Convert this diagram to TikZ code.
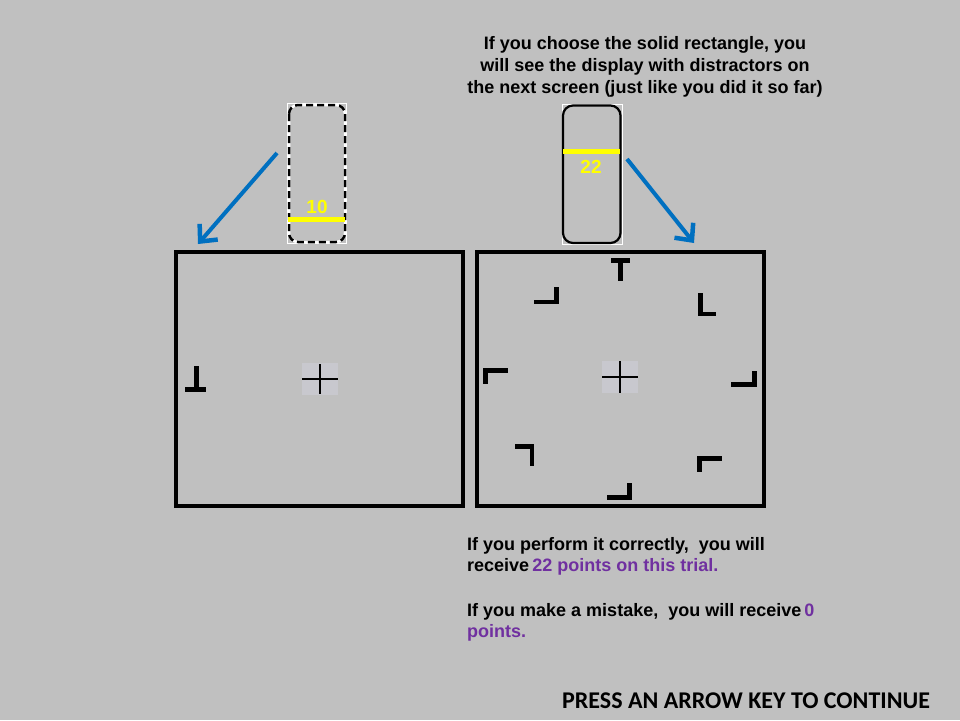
\documentclass[tikz,border=0pt]{standalone}
\usepackage{fontspec}
\setmainfont{Liberation Sans}
\newfontfamily\calib{Carlito}
\usetikzlibrary{arrows.meta}
\definecolor{bg}{RGB}{192,192,192}
\definecolor{arrowblue}{RGB}{0,112,192}
\definecolor{ptpurple}{RGB}{112,48,160}
\definecolor{fixsq}{RGB}{200,200,206}
\definecolor{cueyellow}{RGB}{255,255,0}
\tikzset{
  screenbox/.style={draw=black, line width=3.2pt},
  cuearrow/.style={draw=arrowblue, line width=4pt, -{Straight Barb[length=13pt,width=24pt,line width=4.5pt]}},
  fixline/.style={draw=black, line width=2pt},
  cueline/.style={draw=cueyellow, line width=5pt},
  cuenum/.style={text=cueyellow, font=\fontsize{19}{19}\selectfont\bfseries, inner sep=0pt},
  bodytext/.style={font=\fontsize{18}{21}\selectfont\bfseries, inner sep=0pt, align=left, anchor=north west},
  letter/.style={fill=black}
}
\begin{document}
\begin{tikzpicture}[x=1pt,y=-1pt]
\fill[bg] (0,0) rectangle (960,720);
\useasboundingbox (0,0) rectangle (960,720);

% top text
\node[font=\fontsize{18}{22}\selectfont\bfseries, inner sep=0pt, align=center, anchor=north] (toptext) at (645,36.5)
  {If you choose the solid rectangle, you\\will see the display with distractors on\\the next screen (just like you did it so far)};

% dashed cue
\draw[white, line width=1pt] (287.5,103.5) rectangle (346.5,243.5);
\draw[white, line width=2.5pt, rounded corners=9pt] (289,105) rectangle (345,242);
\draw[black, line width=2.5pt, dash pattern=on 7pt off 4pt, rounded corners=9pt] (289,105) rectangle (345,242);
\draw[cueline] (288,219) -- (345,219);
\node[cuenum] (tenlabel) at (317,207) {10};

% solid cue
\draw[white, line width=1pt] (562,104.5) rectangle (622,244);
\draw[black, line width=2.2pt, rounded corners=10pt] (563,105.5) rectangle (620.5,243);
\draw[cueline] (563,151) -- (620,151);
\node[cuenum] (twentytwolabel) at (591,167) {22};

% screens
\node[screenbox, minimum width=287pt, minimum height=254pt, inner sep=0pt] (leftscreen) at (319.5,379) {};
\node[screenbox, minimum width=287pt, minimum height=254pt, inner sep=0pt] (rightscreen) at (620.5,379) {};

% arrows
\coordinate (la1) at (277,153);
\coordinate (la2) at (198,244);
\coordinate (ra1) at (627,159);
\coordinate (ra2) at (694,243);
\draw[cuearrow] (la1) -- (la2);
\draw[cuearrow] (ra1) -- (ra2);

% fixation crosses
\fill[fixsq] (302,363) rectangle (338,395);
\draw[fixline] (302,379) -- (338,379);
\draw[fixline] (320,364) -- (320,394);
\fill[fixsq] (602,361) rectangle (638,393);
\draw[fixline] (602,377) -- (638,377);
\draw[fixline] (620,361) -- (620,393);

% left target: inverted T
\fill[letter] (185,387) rectangle (206,392);
\fill[letter] (194,366) rectangle (199,388);

% right display
% T top
\fill[letter] (611,258) rectangle (630,263);
\fill[letter] (618,258) rectangle (623,281);
% upper left corner (bottom+right)
\fill[letter] (534,299.5) rectangle (559,304);
\fill[letter] (554,287) rectangle (559,304);
% upper right L
\fill[letter] (698,293) rectangle (703,316);
\fill[letter] (698,311.5) rectangle (716,316);
% left middle (top+left)
\fill[letter] (483,368) rectangle (508,373);
\fill[letter] (483,368) rectangle (488,384);
% right middle (bottom+right)
\fill[letter] (731,382) rectangle (757,387);
\fill[letter] (752,371) rectangle (757,387);
% lower left (top+right)
\fill[letter] (515,444) rectangle (534,448.5);
\fill[letter] (529.5,444) rectangle (534,466);
% lower right (top+left)
\fill[letter] (697,456) rectangle (722,460.5);
\fill[letter] (697,456) rectangle (702,472);
% bottom (bottom+right)
\fill[letter] (607,495) rectangle (632,499.5);
\fill[letter] (627,483) rectangle (632,499.5);

% bottom texts
\node[bodytext] (correcttext) at (467,537)
  {If you perform it correctly,\ \ you will\\receive\,\textcolor{ptpurple}{22 points on this trial.}};
\node[bodytext] (mistaketext) at (467,603)
  {If you make a mistake,\ \ you will receive\,\textcolor{ptpurple}{0}\\\textcolor{ptpurple}{points.}};

\node[font=\fontsize{24}{24}\selectfont\calib\bfseries, inner sep=0pt, anchor=base west] (presstext) at (562,708) {PRESS AN ARROW KEY TO CONTINUE};
\end{tikzpicture}
\end{document}
